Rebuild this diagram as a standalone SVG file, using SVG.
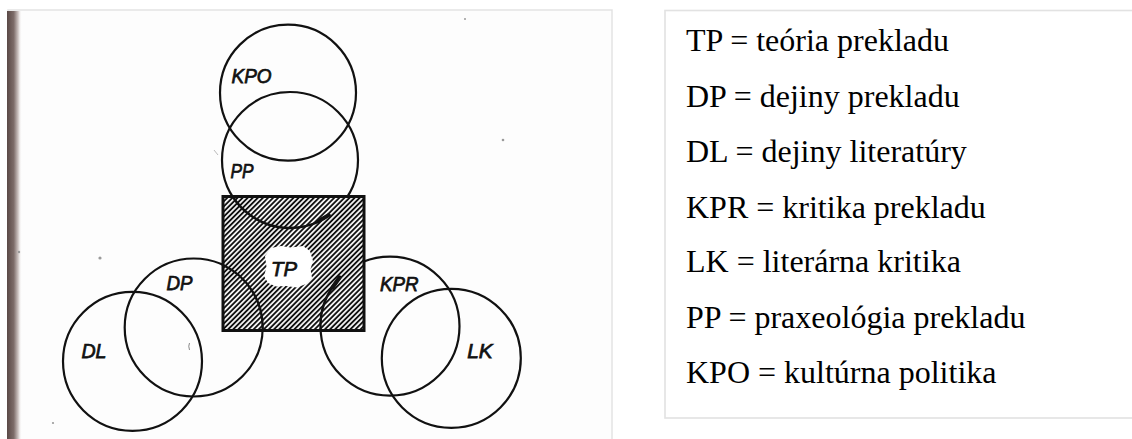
<svg xmlns="http://www.w3.org/2000/svg" width="1132" height="439" viewBox="0 0 1132 439">
  <defs>
    <style>
      .ring { fill: none; stroke: #111; stroke-width: 2.2; }
      .arc { fill: none; stroke: #111; stroke-width: 2.4; stroke-linecap: round; }
      .lbl { font-family: "Liberation Sans", Arial, sans-serif; font-style: italic; font-size: 20px; fill: #111; stroke: #111; stroke-width: 0.75; }
      .leg { font-family: "Liberation Serif", "Times New Roman", serif; font-size: 32px; fill: #000; }
      .speck { fill: #9a9a9a; }
    </style>
    <pattern id="hatch" patternUnits="userSpaceOnUse" width="3.6" height="3.6" patternTransform="rotate(45)">
      <rect width="3.6" height="3.6" fill="#fff"/>
      <line x1="1.8" y1="0" x2="1.8" y2="3.6" stroke="#111" stroke-width="1.9"/>
    </pattern>
    <linearGradient id="edge" x1="0" y1="0" x2="1" y2="0">
      <stop offset="0" stop-color="#5a4946"/>
      <stop offset="0.45" stop-color="#7d6c69"/>
      <stop offset="0.75" stop-color="#cfc6c4"/>
      <stop offset="1" stop-color="#ffffff" stop-opacity="0"/>
    </linearGradient>
  </defs>

  <rect x="0" y="0" width="1132" height="439" fill="#ffffff"/>

  <!-- scanned figure panel -->
  <g id="panel">
    <rect x="8" y="10" width="604" height="440" fill="#fdfdfd" stroke="#e3e3e3" stroke-width="1.5"/>
    <rect x="7" y="11" width="15" height="428" fill="url(#edge)"/>
    <circle class="speck" cx="100" cy="258" r="1.6"/>
    <circle class="speck" cx="503" cy="140" r="1.3"/>
    <circle class="speck" cx="53" cy="423" r="1.1"/>
    <circle class="speck" cx="465" cy="19" r="1"/>
    <circle class="speck" cx="19" cy="252" r="1.2"/>
    <path d="M189.5 343 q-1.5 3 0 7" fill="none" stroke="#888" stroke-width="1"/>
    <path d="M214 150 l4 5" fill="none" stroke="#bbb" stroke-width="1"/>
  </g>

  <g id="node-KPO">
    <circle class="ring" cx="288" cy="92.7" r="68"/>
    <text class="lbl" x="231.5" y="82.7" textLength="40" lengthAdjust="spacingAndGlyphs">KPO</text>
  </g>
  <g id="node-PP">
    <circle class="ring" cx="290" cy="160" r="68"/>
  </g>
  <g id="node-DP">
    <circle class="ring" cx="193.7" cy="327.5" r="69"/>
    <text class="lbl" x="166.5" y="290" textLength="26" lengthAdjust="spacingAndGlyphs">DP</text>
  </g>
  <g id="node-DL">
    <circle class="ring" cx="132.5" cy="361.3" r="69.5"/>
    <text class="lbl" x="81.5" y="358.3" textLength="25" lengthAdjust="spacingAndGlyphs">DL</text>
  </g>
  <g id="node-KPR">
    <circle class="ring" cx="390" cy="326.2" r="69.5"/>
    <text class="lbl" x="380" y="290.7" textLength="38.5" lengthAdjust="spacingAndGlyphs">KPR</text>
  </g>
  <g id="node-LK">
    <circle class="ring" cx="451.3" cy="358.3" r="69.5"/>
    <text class="lbl" x="467.3" y="358.3" textLength="25.4" lengthAdjust="spacingAndGlyphs">LK</text>
  </g>

  <g id="node-TP">
    <rect x="223" y="196.5" width="141" height="134" fill="url(#hatch)"/>
    <path d="M265 256 L271 248 L281 246 L291 247.5 L303 246 L310 251 L313 261 L310.5 269 L312 278 L306 284 L297 287.5 L286 286 L276 286.5 L268 283 L264 276 L266.5 267 Z" fill="#ffffff"/>
    <path class="arc" d="M232.6 196.5 A68 68 0 0 0 329.6 215.3"/>
    <path class="arc" d="M223 265 A69 69 0 0 1 262.6 330.5"/>
    <path class="arc" d="M320.6 330.5 A69.5 69.5 0 0 1 337.6 280.6"/>
    <line x1="318" y1="221" x2="328.5" y2="215" stroke="#111" stroke-width="3.6" stroke-linecap="round"/>
    <line x1="332.5" y1="287.5" x2="339.5" y2="277.5" stroke="#111" stroke-width="4.2" stroke-linecap="round"/>
    <rect x="223" y="196.5" width="141" height="134" fill="none" stroke="#111" stroke-width="3"/>
    <text class="lbl" x="271" y="275.5" textLength="26" lengthAdjust="spacingAndGlyphs">TP</text>
  </g>

  <g id="labels-PP">
    <text class="lbl" x="230.5" y="178.3" textLength="23" lengthAdjust="spacingAndGlyphs">PP</text>
  </g>

  <g id="connectors"></g>

  <g id="legend">
    <rect x="665" y="10.5" width="480" height="407.5" fill="#ffffff" stroke="#e2e2e2" stroke-width="1.6"/>
    <text class="leg" x="686" y="51">TP = teória prekladu</text>
    <text class="leg" x="686" y="106.5">DP = dejiny prekladu</text>
    <text class="leg" x="686" y="162">DL = dejiny literatúry</text>
    <text class="leg" x="686" y="217.5">KPR = kritika prekladu</text>
    <text class="leg" x="686" y="272">LK = literárna kritika</text>
    <text class="leg" x="686" y="327.5">PP = praxeológia prekladu</text>
    <text class="leg" x="686" y="382.5">KPO = kultúrna politika</text>
  </g>
</svg>
